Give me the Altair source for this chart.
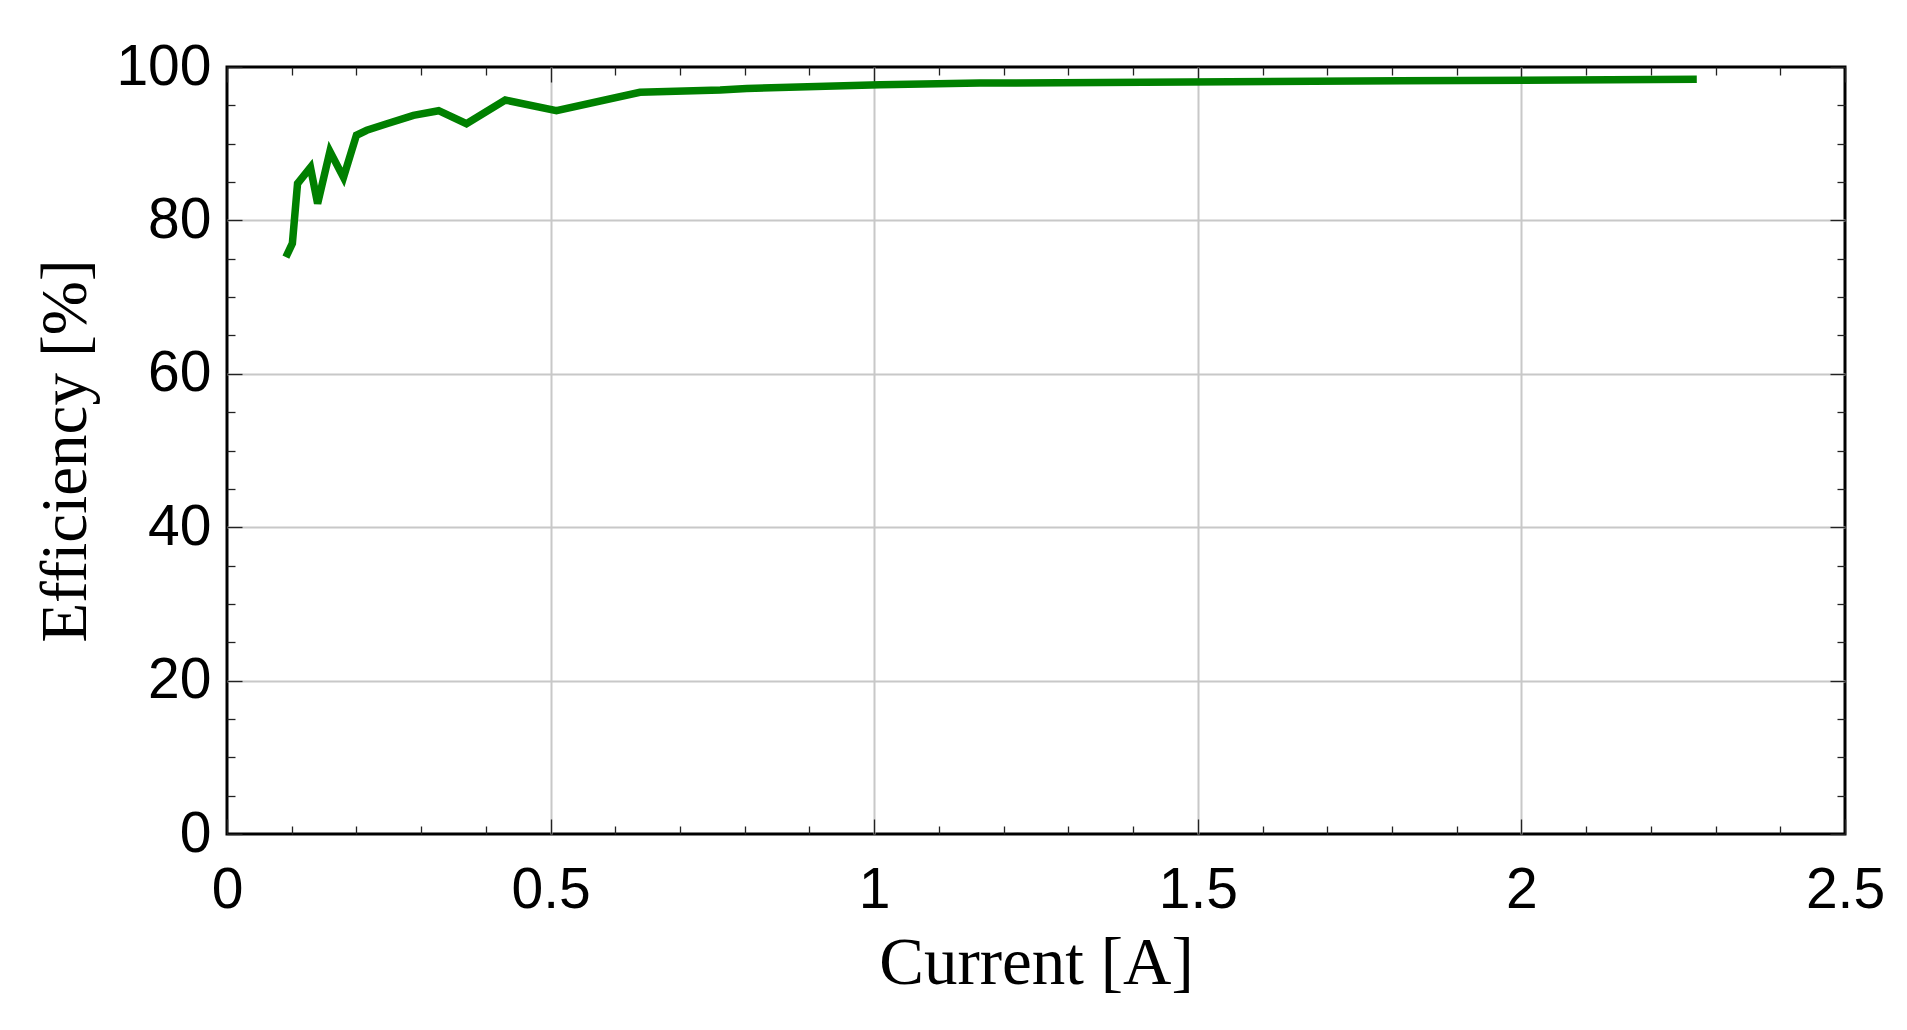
import altair as alt
import pandas as pd

# data
current = [0.091, 0.101, 0.109, 0.129, 0.140, 0.159, 0.180, 0.200, 0.216, 0.247,
           0.288, 0.327, 0.370, 0.430, 0.509, 0.638, 0.762, 0.803, 1.009, 1.163,
           1.812, 2.271]
efficiency = [75.2, 77.0, 84.8, 86.9, 82.2, 89.0, 85.6, 91.1, 91.75, 92.6,
              93.7, 94.3, 92.6, 95.7, 94.3, 96.7, 97.0, 97.2, 97.7, 97.9,
              98.2, 98.4]

x_major = [0, 0.5, 1, 1.5, 2, 2.5]
x_minor = [0.1, 0.2, 0.3, 0.4, 0.6, 0.7, 0.8, 0.9, 1.1, 1.2, 1.3, 1.4,
           1.6, 1.7, 1.8, 1.9, 2.1, 2.2, 2.3, 2.4]
x_grid = [0.5, 1, 1.5, 2]
y_major = [0, 20, 40, 60, 80, 100]
y_minor = [5, 10, 15, 25, 30, 35, 45, 50, 55, 65, 70, 75, 85, 90, 95]
y_grid = [20, 40, 60, 80]

df = pd.DataFrame({"current": current, "efficiency": efficiency})

xs = alt.Scale(domain=[0, 2.5], nice=False, zero=False)
ys = alt.Scale(domain=[0, 100], nice=False, zero=False)

LABEL_FONT = "Liberation Sans"
TITLE_FONT = "Liberation Serif"
TICK_COLOR = "#222222"

grid = alt.Chart(df).mark_line(opacity=0).encode(
    x=alt.X("current:Q", scale=xs,
            axis=alt.Axis(orient="bottom", values=x_grid, labels=False,
                          ticks=False, domain=False, title=None, grid=True,
                          gridColor="#c8c8c8", gridWidth=2)),
    y=alt.Y("efficiency:Q", scale=ys,
            axis=alt.Axis(orient="left", values=y_grid, labels=False,
                          ticks=False, domain=False, title=None, grid=True,
                          gridColor="#c8c8c8", gridWidth=2)),
)

main = alt.Chart(df).mark_line(color="#008000", strokeWidth=7.5).encode(
    x=alt.X("current:Q", scale=xs,
            axis=alt.Axis(orient="bottom", values=x_major, format="~g",
                          title="Current [A]", titleFont=TITLE_FONT,
                          titleFontSize=67, titleFontWeight="normal",
                          titleColor="black", titlePadding=12,
                          labelFont=LABEL_FONT, labelFontSize=57,
                          labelColor="black", labelPadding=28,
                          labelFlush=False, labelOverlap=False,
                          ticks=False, tickSize=0, domain=False,
                          grid=False)),
    y=alt.Y("efficiency:Q", scale=ys,
            axis=alt.Axis(orient="left", values=y_major, format="d",
                          title="Efficiency [%]", titleFont=TITLE_FONT,
                          titleFontSize=65, titleFontWeight="normal",
                          titleColor="black", titlePadding=16,
                          labelFont=LABEL_FONT, labelFontSize=57,
                          labelColor="black", labelPadding=16,
                          labelFlush=False, labelOverlap=False,
                          ticks=False, tickSize=0, domain=False,
                          grid=False)),
)


def tick_layer(xvals, yvals, xorient, yorient, size):
    def ax(orient, vals):
        return alt.Axis(orient=orient, values=vals, tickSize=size,
                        offset=-size, labels=False, domain=False, grid=False,
                        title=None, ticks=True, tickColor=TICK_COLOR,
                        tickWidth=1.3)
    return alt.Chart(df).mark_line(opacity=0).encode(
        x=alt.X("current:Q", scale=xs, axis=ax(xorient, xvals)),
        y=alt.Y("efficiency:Q", scale=ys, axis=ax(yorient, yvals)),
    )


layers = [
    grid,
    main,
    tick_layer(x_major, y_major, "bottom", "left", 15),
    tick_layer(x_minor, y_minor, "bottom", "left", 8),
    tick_layer(x_major, y_major, "top", "right", 15),
    tick_layer(x_minor, y_minor, "top", "right", 8),
]

chart = alt.layer(*layers).resolve_axis(
    x="independent", y="independent"
).properties(
    width=1618,
    height=767,
    autosize=alt.AutoSizeParams(type="none"),
    padding={"left": 219, "top": 59, "right": 40, "bottom": 170},
    background="white",
).configure_view(
    stroke="black", strokeWidth=3
)

chart.save("out.html", embed_options={"renderer": "svg", "actions": False})
